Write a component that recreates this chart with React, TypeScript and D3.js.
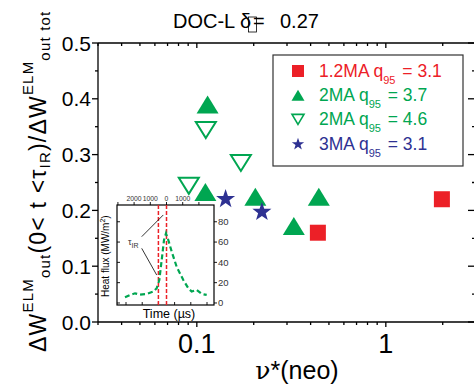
import React, { useEffect, useRef } from 'react';
import * as d3 from 'd3';

// main scatter: nu*(neo) vs energy fraction
const sq12X = [0.437, 1.98];
const sq12Y = [0.16, 0.22];
const tri37X = [0.114, 0.111, 0.204, 0.442, 0.326];
const tri37Y = [0.39, 0.233, 0.2245, 0.2245, 0.172];
const tri46X = [0.1116, 0.171, 0.0907];
const tri46Y = [0.344, 0.285, 0.244];
const star31X = [0.142, 0.221];
const star31Y = [0.222, 0.199];

const xMajor = [0.1, 1];
const xMajorLabels = ['0.1', '1'];
const xMinor = [0.03, 0.04, 0.05, 0.06, 0.07, 0.08, 0.09, 0.2, 0.3, 0.4, 0.5, 0.6, 0.7, 0.8, 0.9, 2, 3];
const yMajor = [0, 0.1, 0.2, 0.3, 0.4, 0.5];
const yMajorLabels = ['0.0', '0.1', '0.2', '0.3', '0.4', '0.5'];
const yMinor = [0.05, 0.15, 0.25, 0.35, 0.45];

// inset: heat flux trace
const heatTime = [-2562, -2253, -1944, -1636, -1222, -815, -605, -444, -296, -154, -31, 111, 321, 630, 1037, 1346, 1556, 1864, 2173, 2481];
const heatFlux = [5.6, 7.9, 9.5, 8.2, 8.9, 11.2, 14.5, 22.6, 42.4, 62, 68.5, 62, 50.5, 35.5, 22.6, 14.5, 11.2, 12.8, 8.9, 7.9];
const markTimes = [-500, 0];
const insetTopTicks = [-3000, -2000, -1000, 0, 1000, 2000];
const insetTopLabels = [-2000, -1000, 0, 1000];
const insetBottomTicks = [-2500, -1500, -500, 500, 1500, 2500];
const insetYTicks = [0, 20, 40, 60, 80];

const RED = '#ec2027';
const GREEN = '#00a651';
const BLUE = '#2e3192';
const FONT = '"Liberation Sans", Arial, sans-serif';

const triPath = (w, h, up) => up
    ? `M0,${-h / 2}L${w / 2},${h / 2}L${-w / 2},${h / 2}Z`
    : `M0,${h / 2}L${w / 2},${-h / 2}L${-w / 2},${-h / 2}Z`;

const starPath = (R) => {
    const pts = d3.range(10).map(i => {
        const a = (-90 + i * 36) * Math.PI / 180;
        const r = i % 2 ? R * 0.4 : R;
        return [r * Math.cos(a), r * Math.sin(a) + R * 0.1];
    });
    return 'M' + pts.map(p => p.join(',')).join('L') + 'Z';
};

const App = () => {
    const svgRef = useRef();

    useEffect(() => {
        const svg = d3.select(svgRef.current);
        svg.selectAll('*').remove();
        svg.attr('font-family', FONT);

        const x = d3.scaleLog().domain([0.03, 3]).range([98, 476]);
        const y = d3.scaleLinear().domain([0, 0.5]).range([322, 43]);
        const [x0, x1] = x.range();
        const [y0, y1] = y.range();

        // title
        const title = svg.append('g').attr('font-size', 20);
        title.append('text').attr('x', 173).attr('y', 28).text('DOC-L');
        title.append('text').attr('x', 240).attr('y', 28).text('δ');
        title.append('rect').attr('x', 248.5).attr('y', 17).attr('width', 8).attr('height', 15)
            .attr('fill', 'none').attr('stroke', '#000').attr('stroke-width', 0.8);
        title.append('text').attr('x', 253).attr('y', 28).text('=');
        title.append('text').attr('x', 280).attr('y', 28).text('0.27');

        // frame
        const ax = svg.append('g').attr('stroke', '#000').attr('stroke-width', 1.3);
        ax.append('line').attr('x1', x0).attr('x2', x1).attr('y1', y0).attr('y2', y0);
        ax.append('line').attr('x1', x0).attr('x2', x1).attr('y1', y1).attr('y2', y1);
        ax.append('line').attr('x1', x0).attr('x2', x0).attr('y1', y0).attr('y2', y1);
        ax.append('line').attr('x1', x1).attr('x2', x1).attr('y1', y0).attr('y2', y1);

        const xt = (vals, len) => {
            vals.forEach(v => {
                ax.append('line').attr('x1', x(v)).attr('x2', x(v)).attr('y1', y0).attr('y2', y0 + len);
                ax.append('line').attr('x1', x(v)).attr('x2', x(v)).attr('y1', y1).attr('y2', y1 + len);
            });
        };
        xt(xMajor, 5);
        xt(xMinor, 3);
        const yt = (vals, len, rlen) => {
            vals.forEach(v => {
                ax.append('line').attr('x1', x0 - len).attr('x2', x0).attr('y1', y(v)).attr('y2', y(v));
                ax.append('line').attr('x1', x1 - rlen).attr('x2', x1).attr('y1', y(v)).attr('y2', y(v));
            });
        };
        yt(yMajor, 6, 8);
        yt(yMinor, 3, 4);

        svg.append('g').selectAll('text').data(xMajor).enter().append('text')
            .attr('x', d => x(d)).attr('y', 353).attr('text-anchor', 'middle')
            .attr('font-size', 27).text((d, i) => xMajorLabels[i]);
        svg.append('g').selectAll('text').data(yMajor).enter().append('text')
            .attr('x', 91).attr('y', d => y(d)).attr('dy', '0.36em').attr('text-anchor', 'end')
            .attr('font-size', 21).text((d, i) => yMajorLabels[i]);

        // x label
        const xl = svg.append('text').attr('x', 297).attr('y', 379).attr('text-anchor', 'middle').attr('font-size', 25);
        xl.append('tspan').attr('font-family', '"DejaVu Serif", serif').text('ν');
        xl.append('tspan').text('*(neo)');

        // y label
        const yl = svg.append('text').attr('transform', 'translate(46,352) rotate(-90)')
            .attr('font-size', 23).attr('letter-spacing', 1.2);
        const part = (t, size, dy) => yl.append('tspan').attr('font-size', size).attr('dy', dy).text(t);
        part('ΔW', 23, 0);
        part('ELM', 15, -13);
        part('out', 15, 17);
        part('(0< t <τ', 23, -4);
        part('IR', 15, 4);
        part(')/ΔW', 23, -4);
        part('ELM', 15, -13);
        part('out tot', 15, 17);

        // markers
        const pts = svg.append('g');
        tri46X.forEach((v, i) => {
            pts.append('path').attr('d', triPath(20, 16, false))
                .attr('transform', `translate(${x(v)},${y(tri46Y[i])})`)
                .attr('fill', '#fff').attr('stroke', GREEN).attr('stroke-width', 2);
        });
        tri37X.forEach((v, i) => {
            pts.append('path').attr('d', triPath(22, 18, true))
                .attr('transform', `translate(${x(v)},${y(tri37Y[i])})`)
                .attr('fill', GREEN);
        });
        star31X.forEach((v, i) => {
            pts.append('path').attr('d', starPath(10))
                .attr('transform', `translate(${x(v)},${y(star31Y[i])})`)
                .attr('fill', BLUE);
        });
        sq12X.forEach((v, i) => {
            pts.append('rect').attr('x', x(v) - 8).attr('y', y(sq12Y[i]) - 8)
                .attr('width', 16).attr('height', 16).attr('fill', RED);
        });

        // legend
        const lg = svg.append('g');
        lg.append('rect').attr('x', 273).attr('y', 55).attr('width', 190).attr('height', 111)
            .attr('fill', '#fff').attr('stroke', '#333').attr('stroke-width', 1.2);
        const entries = [
            { a: '1.2MA q', b: ' = 3.1', c: RED, m: 'sq' },
            { a: '2MA q', b: ' = 3.7', c: GREEN, m: 'up' },
            { a: '2MA q', b: ' = 4.6', c: GREEN, m: 'down' },
            { a: '3MA q', b: ' = 3.1', c: BLUE, m: 'star' },
        ];
        entries.forEach((e, i) => {
            const cy = 71 + i * 24.2;
            if (e.m === 'sq') lg.append('rect').attr('x', 292).attr('y', cy - 6).attr('width', 12).attr('height', 12).attr('fill', e.c);
            if (e.m === 'up') lg.append('path').attr('d', triPath(13, 11, true)).attr('transform', `translate(298,${cy})`).attr('fill', e.c);
            if (e.m === 'down') lg.append('path').attr('d', triPath(12, 10, false)).attr('transform', `translate(298,${cy})`).attr('fill', '#fff').attr('stroke', e.c).attr('stroke-width', 1.6);
            if (e.m === 'star') lg.append('path').attr('d', starPath(6.5)).attr('transform', `translate(298,${cy})`).attr('fill', e.c);
            const t = lg.append('text').attr('x', 319).attr('y', cy + 6).attr('fill', e.c).attr('font-size', 17.5);
            t.append('tspan').text(e.a);
            t.append('tspan').attr('font-size', 11).attr('dy', 7).text('95');
            t.append('tspan').attr('dy', -7).attr('dx', 2).text(e.b);
        });

        // inset
        const ix = d3.scaleLinear().domain([-3056, 2932]).range([117, 214]);
        const iy = d3.scaleLinear().domain([-2, 96.5]).range([305, 205]);
        const ins = svg.append('g');
        ins.append('rect').attr('x', 117).attr('y', 205).attr('width', 97).attr('height', 100)
            .attr('fill', '#fff').attr('stroke', '#000').attr('stroke-width', 1.2);
        const it = ins.append('g').attr('stroke', '#000').attr('stroke-width', 0.9);
        insetTopTicks.forEach(v => it.append('line').attr('x1', ix(v)).attr('x2', ix(v)).attr('y1', 205).attr('y2', 202));
        insetBottomTicks.forEach(v => it.append('line').attr('x1', ix(v)).attr('x2', ix(v)).attr('y1', 305).attr('y2', 302));
        insetYTicks.forEach(v => {
            it.append('line').attr('x1', 214).attr('x2', 217).attr('y1', iy(v)).attr('y2', iy(v));
            it.append('line').attr('x1', 117).attr('x2', 120).attr('y1', iy(v)).attr('y2', iy(v));
        });
        ins.append('g').selectAll('text').data(insetTopLabels).enter().append('text')
            .attr('x', d => ix(d)).attr('y', 201).attr('text-anchor', 'middle').attr('font-size', 6.8)
            .attr('fill', '#333').text(d => Math.abs(d));
        ins.append('g').selectAll('text').data(insetYTicks).enter().append('text')
            .attr('x', 218).attr('y', d => iy(d)).attr('dy', '0.36em').attr('font-size', 9.5)
            .attr('fill', '#333').text(d => d);
        ins.append('text').attr('x', 169).attr('y', 318).attr('text-anchor', 'middle').attr('font-size', 12.5).text('Time (µs)');
        const hl = ins.append('text').attr('transform', 'translate(109,297) rotate(-90)').attr('font-size', 10);
        hl.append('tspan').text('Heat flux (MW/m');
        hl.append('tspan').attr('font-size', 7).attr('dy', -4).text('2');
        hl.append('tspan').attr('dy', 4).text(')');

        markTimes.forEach(t => {
            ins.append('line').attr('x1', ix(t)).attr('x2', ix(t)).attr('y1', 205).attr('y2', 305)
                .attr('stroke', RED).attr('stroke-width', 1.5).attr('stroke-dasharray', '4,2');
        });
        const line = d3.line().x((d, i) => ix(heatTime[i])).y(d => iy(d));
        ins.append('path').attr('d', line(heatFlux)).attr('fill', 'none')
            .attr('stroke', GREEN).attr('stroke-width', 2.2).attr('stroke-dasharray', '5,3');

        // tau_IR annotation
        const ann = ins.append('g').attr('stroke', '#000').attr('stroke-width', 0.8);
        ann.append('line').attr('x1', ix(-1531)).attr('y1', iy(65.3)).attr('x2', ix(-198)).attr('y2', iy(86.7));
        ann.append('line').attr('x1', ix(-1531)).attr('y1', iy(53.8)).attr('x2', ix(-605)).attr('y2', iy(27.5));
        const tl = ins.append('text').attr('x', ix(-2377)).attr('y', iy(57)).attr('font-size', 9).attr('fill', '#333');
        tl.append('tspan').text('τ');
        tl.append('tspan').attr('font-size', 7).attr('dy', 3).text('IR');
    }, []);

    return (
        <svg ref={svgRef} width={474} height={390}
            style={{ position: 'absolute', left: 0, top: 0, background: '#fff' }}></svg>
    );
};

export default App;
